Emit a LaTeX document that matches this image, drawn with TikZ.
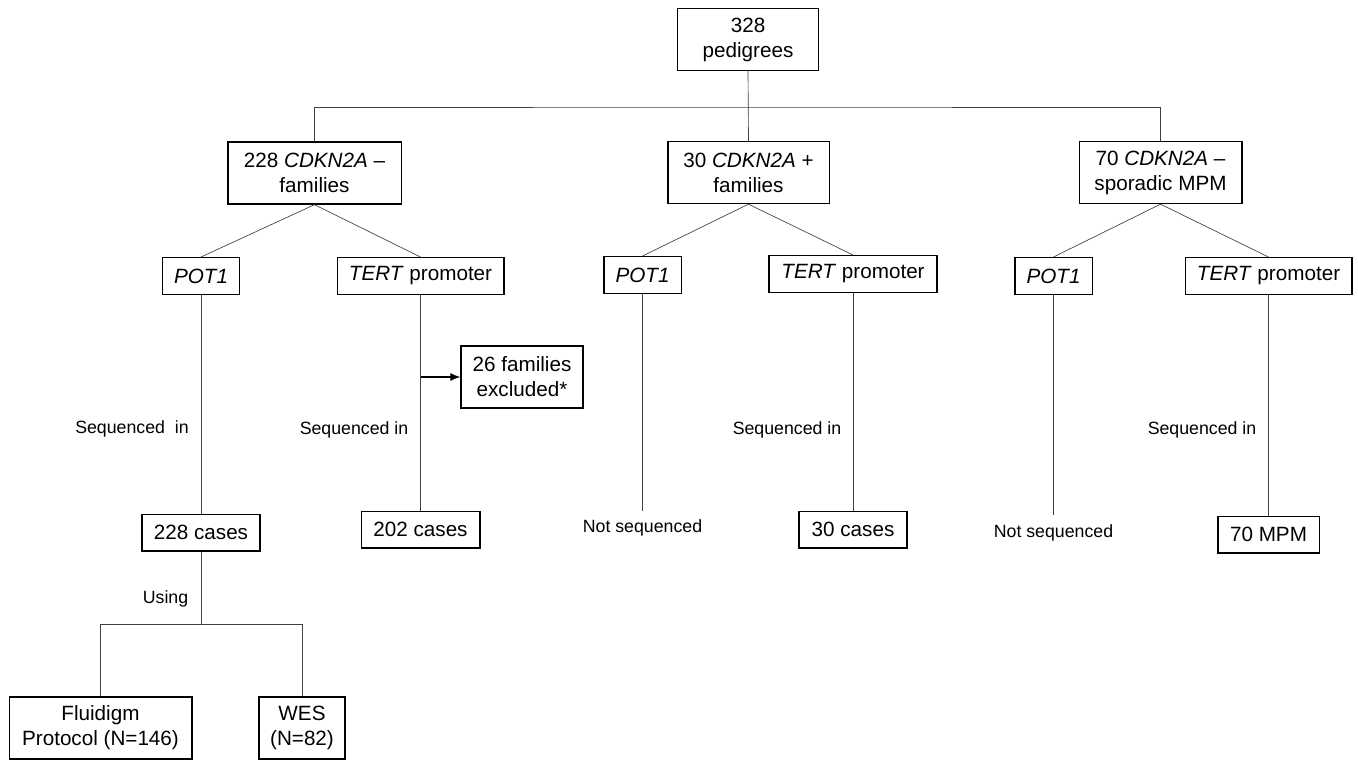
\documentclass[tikz,border=0pt]{standalone}
\usepackage{fontspec}
\setmainfont{Liberation Sans}
\usepackage{xcolor}
\usepackage{tikz}
\definecolor{lin}{rgb}{0.25,0.25,0.25}
\usetikzlibrary{arrows.meta,calc}

\tikzset{
  box/.style={draw=black,line width=1pt,align=center,inner sep=0pt,
    font=\fontsize{15.5}{18.8}\selectfont},
  onebox/.style={box,minimum height=27.5pt},
  twobox/.style={box,minimum height=46.5pt},
  lbl/.style={font=\fontsize{13.3}{16}\selectfont,inner sep=0pt},
  con/.style={draw=lin,line width=0.5pt}
}

\begin{document}
\begin{tikzpicture}[x=0.75pt,y=-0.75pt]
\useasboundingbox (0,0) rectangle (1358,760);

% top
\node[twobox,minimum width=106pt] (ped) at (748,39.5) {328\\pedigrees};

% groups
\node[twobox,minimum width=130pt] (cdkA) at (314.5,173) {228 \textit{CDKN2A} --\\families};
\node[twobox,minimum width=121pt] (cdkB) at (748.5,172.5) {30 \textit{CDKN2A} +\\families};
\node[twobox,minimum width=122pt] (cdkC) at (1160.5,172.5) {70 \textit{CDKN2A} --\\sporadic MPM};

% genes
\node[onebox,minimum width=58pt] (potA) at (201,276) {\textit{POT1}};
\node[onebox,minimum width=125pt] (tertA) at (420.5,276) {\textit{TERT} promoter};
\node[onebox,minimum width=58pt] (potB) at (642.5,275) {\textit{POT1}};
\node[onebox,minimum width=126pt] (tertB) at (853,274) {\textit{TERT} promoter};
\node[onebox,minimum width=58pt] (potC) at (1053.5,276) {\textit{POT1}};
\node[onebox,minimum width=125pt] (tertC) at (1268.5,276) {\textit{TERT} promoter};

% excluded
\node[twobox,minimum width=91.5pt] (excl) at (522,377) {26 families\\excluded*};

% cases
\node[onebox,minimum width=88.5pt] (caseA) at (201,532.5) {228 cases};
\node[onebox,minimum width=89pt] (caseT) at (420.5,529.5) {202 cases};
\node[onebox,minimum width=81pt] (caseB) at (853,529.5) {30 cases};
\node[onebox,minimum width=76pt] (mpm) at (1268.5,534.5) {70 MPM};

% methods
\node[twobox,minimum width=137pt] (flu) at (100.5,728) {Fluidigm\\Protocol (N=146)};
\node[twobox,minimum width=64.5pt] (wes) at (302,728) {WES\\(N=82)};

% labels
\node[lbl] (seqA) at (132,429) {Sequenced\ \ in};
\node[lbl] (seqT) at (354,430) {Sequenced in};
\node[lbl] (seqB) at (787,430) {Sequenced in};
\node[lbl] (seqC) at (1202,430) {Sequenced in};
\node[lbl] (notB) at (642.5,528) {Not sequenced};
\node[lbl] (notC) at (1053.5,533) {Not sequenced};
\node[lbl] (use) at (165.5,599) {Using};

\coordinate (split) at (748,107);
\coordinate (usesplit) at (201,624);
\coordinate (endB) at (642.5,511);
\coordinate (endC) at (1053.5,515);

% connectors
\draw[con] (ped.south) -- (cdkB.north);
\draw[con] (cdkA.north) |- (split) -| (cdkC.north);
\foreach \g/\p/\t in {cdkA/potA/tertA,cdkB/potB/tertB,cdkC/potC/tertC}{
  \draw[con] (\g.south) -- (\p.north);
  \draw[con] (\g.south) -- (\t.north);
}
\draw[con] (potA.south) -- (caseA.north);
\draw[con] (tertA.south) -- (caseT.north);
\draw[con] (tertB.south) -- (caseB.north);
\draw[con] (tertC.south) -- (mpm.north);
\draw[con] (potB.south) -- (endB);
\draw[con] (potC.south) -- (endC);
\draw[con,line width=0.8pt,draw=black,-{Latex[length=7.5pt,width=6pt]}] (tertA.south |- excl.west) -- (excl.west);
\draw[con] (caseA.south) -- (usesplit);
\draw[con] (flu.north) |- (usesplit) -| (wes.north);
\end{tikzpicture}
\end{document}
